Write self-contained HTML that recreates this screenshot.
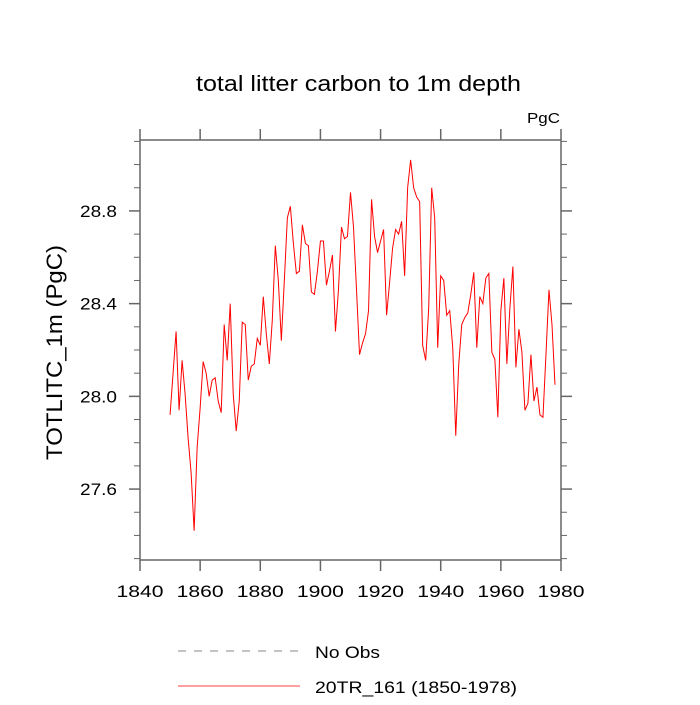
<!DOCTYPE html>
<html><head><meta charset="utf-8"><style>
body{margin:0;background:#fff}
svg text{font-family:"Liberation Sans",sans-serif;fill:#000}
</style></head><body>
<svg id="c" width="700" height="700" viewBox="0 0 700 700" xmlns="http://www.w3.org/2000/svg">
<text x="196" y="91" font-size="22" textLength="325" lengthAdjust="spacingAndGlyphs">total litter carbon to 1m depth</text>
<text x="527" y="123" font-size="15" textLength="33" lengthAdjust="spacingAndGlyphs">PgC</text>
<text transform="translate(62,460) rotate(-90)" font-size="22" textLength="215" lengthAdjust="spacingAndGlyphs">TOTLITC_1m  (PgC)</text>
<g id="axes"></g>
<g id="series"></g>
<line x1="178" y1="651" x2="300" y2="651" stroke="#888" stroke-dasharray="8,8"/>
<text x="315" y="658" font-size="17" textLength="65" lengthAdjust="spacingAndGlyphs">No Obs</text>
<line x1="178" y1="686" x2="300" y2="686" stroke="#f00" stroke-width="0.8"/>
<text x="315" y="693" font-size="17" textLength="202" lengthAdjust="spacingAndGlyphs">20TR_161 (1850-1978)</text>
</svg>
<script>
const startYear = 1850;
const values = [27.92,28.10,28.28,27.94,28.155,28.01,27.82,27.67,27.42,27.78,
27.95,28.15,28.10,28.0,28.07,28.08,27.98,27.93,28.31,28.155,
28.40,28.01,27.85,27.98,28.32,28.31,28.07,28.13,28.14,28.25,
28.22,28.43,28.27,28.14,28.33,28.65,28.5,28.24,28.5,28.77,
28.82,28.66,28.53,28.54,28.74,28.66,28.65,28.45,28.44,28.54,
28.67,28.67,28.48,28.54,28.61,28.28,28.46,28.73,28.68,28.69,
28.88,28.73,28.46,28.18,28.23,28.27,28.37,28.85,28.69,28.62,
28.67,28.72,28.35,28.49,28.64,28.72,28.70,28.755,28.52,28.90,
29.02,28.90,28.86,28.84,28.22,28.155,28.38,28.90,28.77,28.21,
28.52,28.50,28.35,28.37,28.21,27.83,28.14,28.31,28.34,28.36,
28.44,28.535,28.21,28.43,28.40,28.51,28.53,28.19,28.16,27.91,
28.37,28.51,28.14,28.38,28.56,28.125,28.29,28.19,27.94,27.97,
28.18,27.98,28.04,27.92,27.91,28.18,28.46,28.31,28.05];
const xTicks = [1840,1860,1880,1900,1920,1940,1960,1980];
const yTicks = [27.6,28.0,28.4,28.8];
const X0=140,X1=561,Y0=560,Y1=140, xmin=1840,xmax=1980, ymin=27.294, ymax=29.106;
const sx=v=>X0+(v-xmin)/(xmax-xmin)*(X1-X0);
const sy=v=>Y0-(v-ymin)/(ymax-ymin)*(Y0-Y1);
const NS="http://www.w3.org/2000/svg";
const axes=document.getElementById('axes');
function mk(tag,attrs,parent){const e=document.createElementNS(NS,tag);for(const k in attrs)e.setAttribute(k,attrs[k]);parent.appendChild(e);return e;}
const frame=mk('rect',{x:X0,y:Y1,width:X1-X0,height:Y0-Y1,fill:'none',stroke:'#666','stroke-width':1.5},axes);


xTicks.forEach(t=>{const x=sx(t);
 mk('line',{x1:x,y1:Y0,x2:x,y2:Y0+11,stroke:'#666','stroke-width':1.5},axes);
 mk('line',{x1:x,y1:Y1,x2:x,y2:Y1-11,stroke:'#666','stroke-width':1.5},axes);
 const tx=mk('text',{x:x-23.5,y:Y0+37,'font-size':17,textLength:47,lengthAdjust:'spacingAndGlyphs'},axes);tx.textContent=t;
 
 
});
for(let v=27.3;v<=29.101;v+=0.1){const y=sy(v);const major=yTicks.some(t=>Math.abs(t-v)<1e-6);const L=major?11:6;
 mk('line',{x1:X0,y1:y,x2:X0-L,y2:y,stroke:'#666','stroke-width':major?1.5:1},axes);
 mk('line',{x1:X1,y1:y,x2:X1+L,y2:y,stroke:'#666','stroke-width':major?1.5:1},axes);}
yTicks.forEach(t=>{const tx=mk('text',{x:X0-60,y:sy(t)+6,'font-size':17,textLength:37,lengthAdjust:'spacingAndGlyphs'},axes);tx.textContent=t.toFixed(1);
 
 
});
const pts=values.map((v,i)=>sx(startYear+i).toFixed(2)+','+sy(v).toFixed(2)).join(' ');
const line=mk('polyline',{points:pts,fill:'none',stroke:'#f00','stroke-width':1},document.getElementById('series'));


</script>
</body></html>
